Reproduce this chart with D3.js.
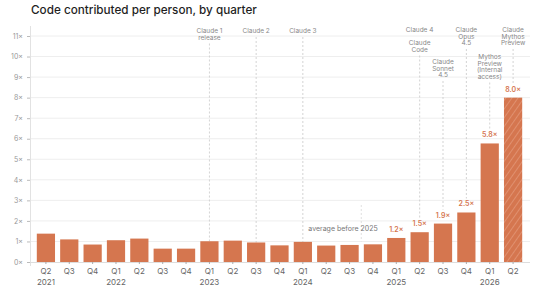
<!DOCTYPE html>
<html><head><meta charset="utf-8">
<script src="https://cdn.jsdelivr.net/npm/d3@7"></script>
<style>
html,body{margin:0;padding:0;background:#fff;}
svg{display:block;font-family:"Inter","Open Sans",sans-serif;}
</style></head>
<body>
<svg id="chart" width="544" height="290"></svg>
<script>
const title = "Code contributed per person, by quarter";
const quarters = ["Q2","Q3","Q4","Q1","Q2","Q3","Q4","Q1","Q2","Q3","Q4","Q1","Q2","Q3","Q4","Q1","Q2","Q3","Q4","Q1","Q2"];
const years    = ["2021","","","2022","","","","2023","","","","2024","","","","2025","","","","2026",""];
const values   = [1.38,1.10,0.85,1.06,1.14,0.65,0.65,1.01,1.04,0.95,0.81,0.98,0.80,0.83,0.86,1.17,1.45,1.87,2.41,5.77,8.0];
const valueLabels = ["","","","","","","","","","","","","","","","1.2×","1.5×","1.9×","2.5×","5.8×","8.0×"];
const projected = [false,false,false,false,false,false,false,false,false,false,false,false,false,false,false,false,false,false,false,false,true];
const yTicks = [0,1,2,3,4,5,6,7,8,9,10,11];
const annotIndex = [7, 9, 11, 16, 17, 18, 19, 20];
const annotLines = [
  ["Claude 1","release"],
  ["Claude 2"],
  ["Claude 3"],
  ["Claude 4","","Claude","Code"],
  ["Claude","Sonnet","4.5"],
  ["Claude","Opus","4.5"],
  ["Mythos","Preview","(Internal","access)"],
  ["Claude","Mythos","Preview"]
];
const annotTopY = [31, 31, 31, 30, 62, 30, 57, 30];
const averageLabel = "average before 2025";
const averageValue = 1;

const ids = quarters.map((q,i)=>i);
const svg = d3.select("#chart");
const W = 544, H = 290;
const x = d3.scaleBand(ids, [34, 525]).paddingInner(0.22).paddingOuter(0.12);
const y = d3.scaleLinear([0, 11], [262, 36]);
const clay = "#d5764f";

// title
const t = svg.append("text").attr("x", 31).attr("y", 14)
  .attr("fill", "#1f1f1f").attr("font-size", 13).attr("font-weight", 500)
  .text(title);
const tw = t.node().getComputedTextLength();
t.attr("font-size", 13 * 226 / tw);

// gridlines
svg.append("g").selectAll("line").data(yTicks.filter(d=>d>0)).join("line")
  .attr("x1", 30).attr("x2", 530)
  .attr("y1", d=>y(d)).attr("y2", d=>y(d))
  .attr("stroke", "#eeeeee").attr("stroke-width", 1);

// y axis
const ya = svg.append("g").attr("transform", "translate(30,0)")
  .call(d3.axisLeft(y).tickValues(yTicks).tickSize(3).tickPadding(4).tickFormat(d=>d+"×"));
ya.select(".domain").remove();
ya.selectAll(".tick line").attr("stroke", "#bbb");
ya.selectAll(".tick text").attr("fill", "#999").attr("font-size", 7).attr("font-family", "Inter, sans-serif");
svg.append("line").attr("x1", 30.5).attr("x2", 30.5).attr("y1", 26).attr("y2", 266)
  .attr("stroke", "#e2e2e2");

// pattern for projected bar
const defs = svg.append("defs");
const pat = defs.append("pattern").attr("id", "hatch").attr("patternUnits", "userSpaceOnUse")
  .attr("width", 5).attr("height", 5).attr("patternTransform", "rotate(35)");
pat.append("rect").attr("width", 5).attr("height", 5).attr("fill", clay);
pat.append("line").attr("x1", 0).attr("y1", 0).attr("x2", 0).attr("y2", 5)
  .attr("stroke", "#e59b7d").attr("stroke-width", 1.4);

// annotation dashed lines
const labelTop = i => valueLabels[i] ? y(values[i]) - 14 : y(values[i]);
const ag = svg.append("g");
annotIndex.forEach((idx, k) => {
  const cx = x(idx) + x.bandwidth()/2;
  const lines = annotLines[k];
  const y0 = annotTopY[k];
  const lastY = y0 + (lines.length - 1) * 6.5;
  ag.append("line").attr("x1", cx).attr("x2", cx)
    .attr("y1", lastY + 6).attr("y2", labelTop(idx))
    .attr("stroke", "#c8c8c8").attr("stroke-width", 0.8).attr("stroke-dasharray", "2,2");
  const tx = ag.append("text").attr("text-anchor", "middle").attr("fill", "#888")
    .attr("font-size", 6.5);
  lines.forEach((l, j) => {
    tx.append("tspan").attr("x", cx).attr("y", y0 + j*6.5 + 2).text(l);
  });
});

// average marker
const avgX = (x(13) + x.bandwidth() + x(14)) / 2;
svg.append("line").attr("x1", avgX).attr("x2", avgX).attr("y1", 205).attr("y2", y(averageValue))
  .attr("stroke", "#d8d8d8").attr("stroke-width", 0.8).attr("stroke-dasharray", "2,2");
svg.append("text").attr("x", 343).attr("y", 231).attr("text-anchor", "middle")
  .attr("fill", "#777").attr("font-size", 7).text(averageLabel);

// bars
svg.append("g").selectAll("rect").data(ids).join("rect")
  .attr("x", i=>x(i)).attr("width", x.bandwidth())
  .attr("y", i=>y(values[i])).attr("height", i=>y(0)-y(values[i]))
  .attr("fill", i=>projected[i] ? "url(#hatch)" : clay);

// value labels
svg.append("g").selectAll("text").data(ids.filter(i=>valueLabels[i])).join("text")
  .attr("x", i=>x(i)+x.bandwidth()/2).attr("y", i=>y(values[i]) - 6)
  .attr("text-anchor", "middle").attr("fill", clay).attr("font-size", 7).attr("font-weight", 600)
  .text(i=>valueLabels[i]);

// x axis
svg.append("line").attr("x1", 30).attr("x2", 530).attr("y1", y(0)+0.5).attr("y2", y(0)+0.5)
  .attr("stroke", "#ddd");
const xa = svg.append("g").attr("transform", `translate(0,${y(0)})`)
  .call(d3.axisBottom(x).tickSize(2).tickPadding(4).tickFormat(i=>quarters[i]));
xa.select(".domain").remove();
xa.selectAll(".tick line").attr("stroke", "#aaa");
xa.selectAll(".tick text").attr("fill", "#666").attr("font-size", 8).attr("font-family", "Inter, sans-serif");
svg.append("g").selectAll("text").data(ids.filter(i=>years[i])).join("text")
  .attr("x", i=>x(i)+x.bandwidth()/2).attr("y", 285).attr("text-anchor", "middle")
  .attr("fill", "#666").attr("font-size", 8).text(i=>years[i]);
</script>
</body></html>
